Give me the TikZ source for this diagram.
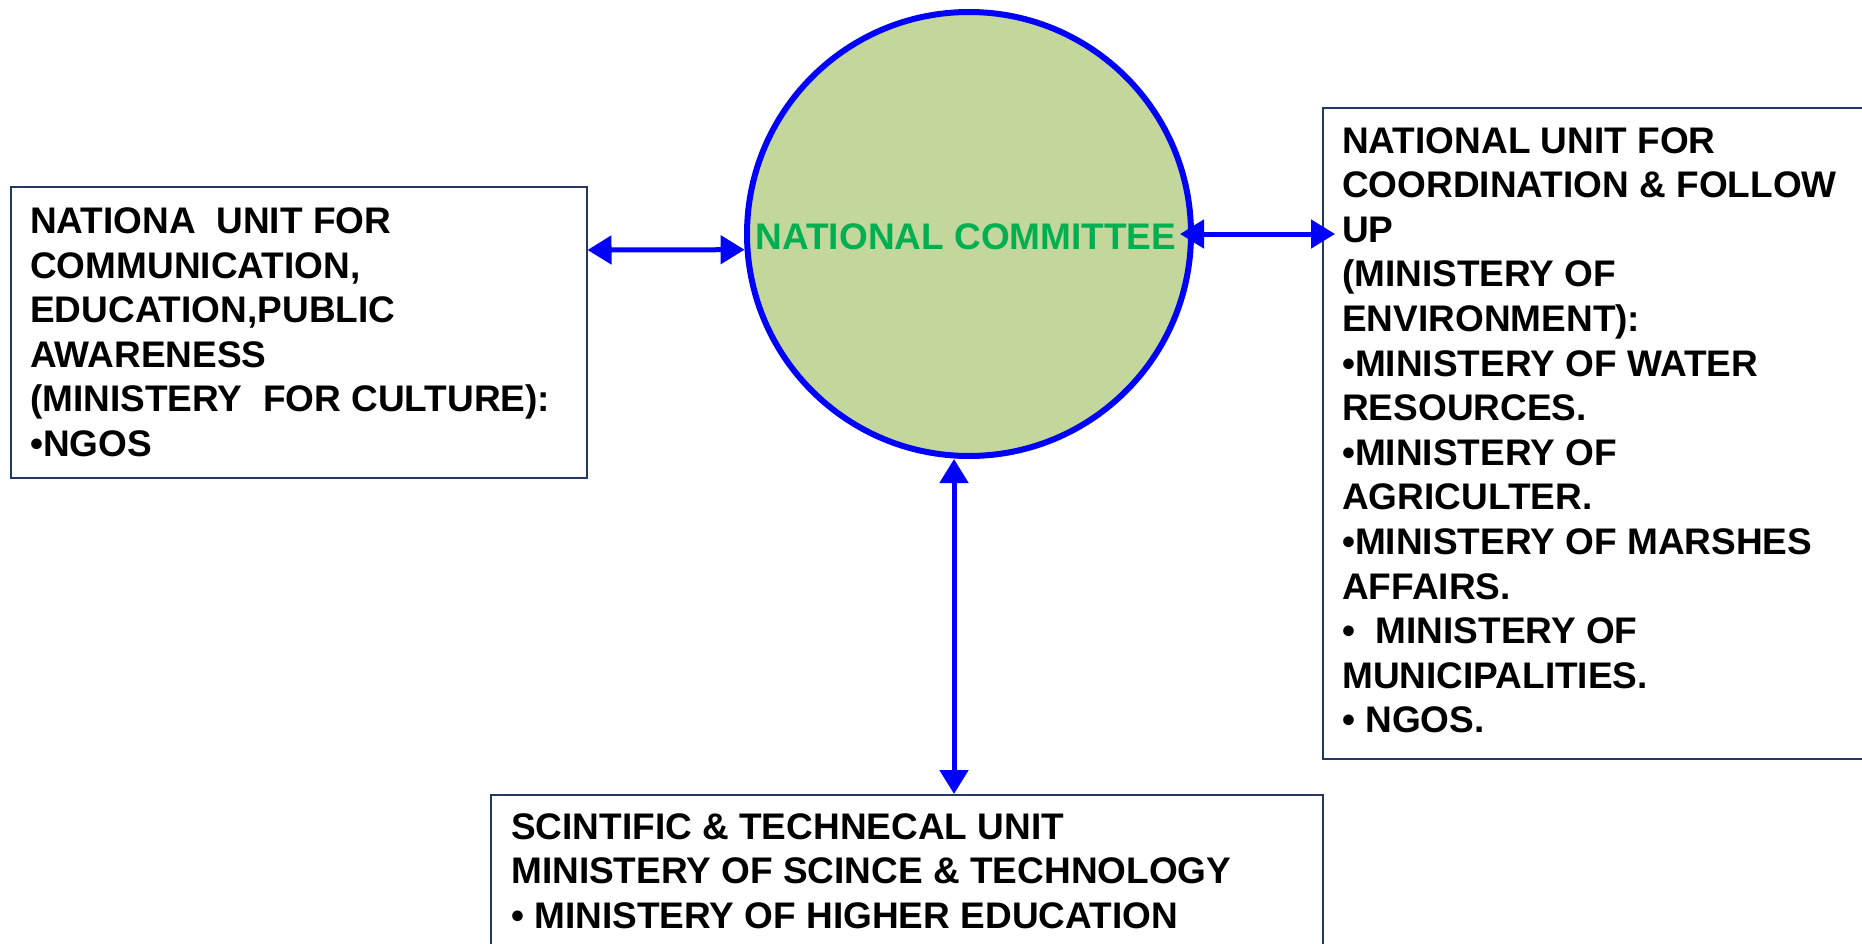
\documentclass[tikz,border=0pt]{standalone}
\usepackage{fontspec}
\setmainfont{Liberation Sans}
\usetikzlibrary{arrows.meta}
\definecolor{boxline}{HTML}{1F3864}
\definecolor{nfill}{HTML}{C3D69B}
\definecolor{ngreen}{HTML}{00B050}
\begin{document}
\begin{tikzpicture}[x=1pt,y=-1pt,
  unitbox/.style={draw=boxline,line width=2pt,inner sep=0pt,anchor=north west},
  unittext/.style={anchor=north west,inner sep=0pt,align=left,font=\fontsize{37}{44.6}\selectfont\bfseries},
  link/.style={draw=blue,line width=5pt,{Triangle[width=28pt,length=24pt]}-{Triangle[width=28pt,length=24pt]}}]
\useasboundingbox (0,0) rectangle (1862,944);
\node[unitbox,minimum width=576pt,minimum height=291pt] (lbox) at (9.5,186) {};
\node[unitbox,minimum width=600pt,minimum height=651pt] (rbox) at (1322,107) {};
\node[unitbox,minimum width=832pt,minimum height=250pt] (bbox) at (490,794) {};
\node[circle,draw=blue,line width=6pt,fill=nfill,minimum size=444pt,inner sep=0pt,text=ngreen,font=\fontsize{37}{44.6}\selectfont\bfseries] (nc) at (969,234) {};
\node[text=ngreen,font=\fontsize{37}{44.6}\selectfont\bfseries,inner sep=0pt] (nctext) at (966,237) {NATIONAL COMMITTEE};
\draw[link] ([yshift=-64pt]lbox.north east) -- (nc.184);
\draw[link,shorten >=-13pt] ([xshift=-14pt]nc.east) -- (rbox.west |- nc.east);
\draw[link] ([xshift=-15pt]nc.south) -- ([xshift=-15pt]nc.south |- bbox.north);
\node[unittext] (ltext) at (30,207.5) {NATIONA\ \ UNIT FOR\\COMMUNICATION,\\EDUCATION,PUBLIC\\AWARENESS\\(MINISTERY\ \ FOR CULTURE):\\•NGOS};
\node[unittext] (rtext) at (1342,127) {NATIONAL UNIT FOR\\COORDINATION \& FOLLOW\\UP\\(MINISTERY OF\\ENVIRONMENT):\\•MINISTERY OF WATER\\RESOURCES.\\•MINISTERY OF\\AGRICULTER.\\•MINISTERY OF MARSHES\\AFFAIRS.\\•\ \ MINISTERY OF\\MUNICIPALITIES.\\• NGOS.};
\node[unittext] (btext) at (511,813) {SCINTIFIC \& TECHNECAL UNIT\\MINISTERY OF SCINCE \& TECHNOLOGY\\• MINISTERY OF HIGHER EDUCATION};
\end{tikzpicture}
\end{document}
